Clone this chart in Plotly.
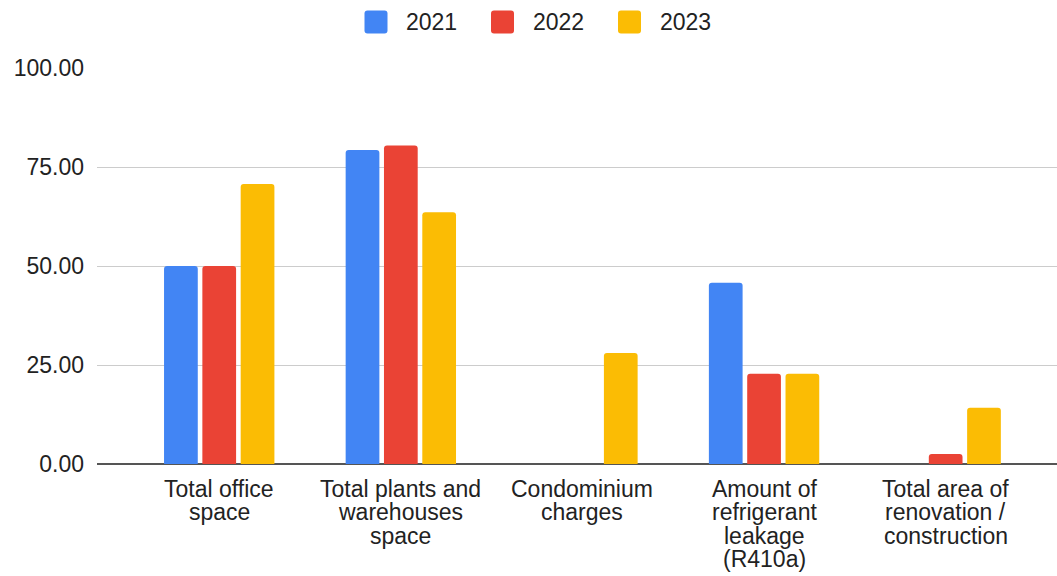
import plotly.graph_objects as go

categories = [
    "Total office<br>space",
    "Total plants and<br>warehouses<br>space",
    "Condominium<br>charges",
    "Amount of<br>refrigerant<br>leakage<br>(R410a)",
    "Total area of<br>renovation /<br>construction",
]
values_2021 = [50.0, 79.3, 0, 45.8, 0]
values_2022 = [50.0, 80.4, 0, 22.8, 2.5]
values_2023 = [70.7, 63.6, 28.0, 22.8, 14.2]
series_names = ["2021", "2022", "2023"]
series_colors = ["#4285F4", "#EA4335", "#FBBC04"]
y_ticks = [0, 25, 50, 75, 100]

W, H = 1057, 576
ML, MR, MT, MB = 97, 0, 68, 112
PLOT_W, PLOT_H = W - ML - MR, H - MT - MB
TEXT = "#222222"
FONT = "Liberation Sans, Arial, sans-serif"
FS = 23


def px_to_paper_x(px):
    return (px - ML) / PLOT_W


def px_to_paper_y(py):
    return (H - MB - py) / PLOT_H


def rounded_square(size, r):
    h = size / 2
    return (f"M {-h + r},{-h} L {h - r},{-h} Q {h},{-h} {h},{-h + r} "
            f"L {h},{h - r} Q {h},{h} {h - r},{h} L {-h + r},{h} "
            f"Q {-h},{h} {-h},{h - r} L {-h},{-h + r} Q {-h},{-h} {-h + r},{-h} Z")


fig = go.Figure()
for name, vals, color in zip(series_names, [values_2021, values_2022, values_2023], series_colors):
    fig.add_trace(go.Bar(name=name, x=list(range(len(categories))), y=vals, showlegend=False,
                         marker=dict(color=color, line=dict(width=0), cornerradius=3)))

# category labels, one annotation per line for tight line spacing
annotations = []
for i, label in enumerate(categories):
    for k, line in enumerate(label.split("<br>")):
        annotations.append(dict(x=i, y=0, xref="x", yref="y", text=line, showarrow=False,
                                xanchor="center", yanchor="middle", yshift=-(24.5 + 23.5 * k),
                                font=dict(family=FONT, size=FS, color=TEXT)))

# legend drawn above the plot: rounded swatches with labels
shapes = []
legend_swatch_x = [376, 502.5, 629.5]
legend_y = 22
for name, color, sx in zip(series_names, series_colors, legend_swatch_x):
    shapes.append(dict(type="path", xref="paper", yref="paper", xsizemode="pixel", ysizemode="pixel",
                       xanchor=px_to_paper_x(sx), yanchor=px_to_paper_y(legend_y),
                       path=rounded_square(23, 3), fillcolor=color, line=dict(width=0)))
    annotations.append(dict(x=px_to_paper_x(sx + 28), y=px_to_paper_y(legend_y), xref="paper", yref="paper",
                            text=name, showarrow=False, xanchor="left", yanchor="middle",
                            font=dict(family=FONT, size=FS, color=TEXT)))

fig.update_layout(
    width=W, height=H,
    margin=dict(l=ML, r=MR, t=MT, b=MB),
    paper_bgcolor="white", plot_bgcolor="white",
    font=dict(family=FONT, size=FS, color=TEXT),
    barmode="group", bargap=0.367, bargroupgap=0.12,
    showlegend=False,
    xaxis=dict(range=[-0.673, 4.613], showticklabels=False,
               showgrid=False, zeroline=False, showline=False, ticks=""),
    yaxis=dict(range=[0, 100], tickmode="array", tickvals=y_ticks,
               ticktext=[f"{v:.2f}" for v in y_ticks],
               tickfont=dict(family=FONT, size=FS, color=TEXT),
               gridcolor="#cccccc", gridwidth=1, zeroline=True,
               zerolinecolor="#555555", zerolinewidth=2, ticks="", ticklabelstandoff=12),
    annotations=annotations,
    shapes=shapes,
)
fig.write_html("out.html")
